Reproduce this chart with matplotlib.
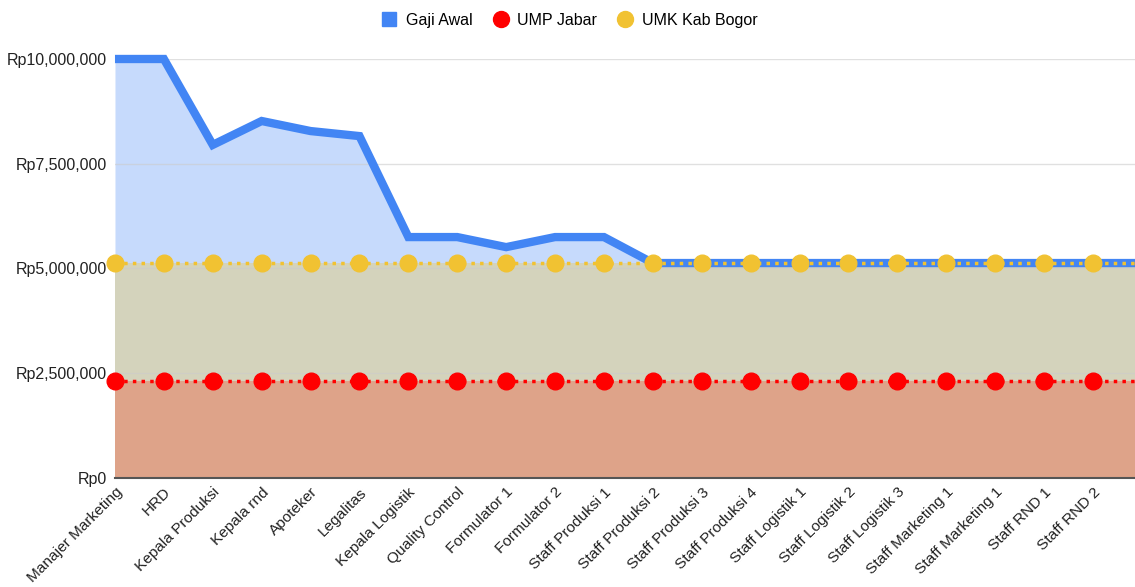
import matplotlib.pyplot as plt
from matplotlib.ticker import FuncFormatter
from matplotlib.lines import Line2D

plt.rcParams['font.family'] = ['Liberation Sans', 'DejaVu Sans']

# data
jabatan = ['Manajer Marketing', 'HRD', 'Kepala Produksi', 'Kepala rnd', 'Apoteker',
           'Legalitas', 'Kepala Logistik', 'Quality Control', 'Formulator 1',
           'Formulator 2', 'Staff Produksi 1', 'Staff Produksi 2', 'Staff Produksi 3',
           'Staff Produksi 4', 'Staff Logistik 1', 'Staff Logistik 2', 'Staff Logistik 3',
           'Staff Marketing 1', 'Staff Marketing 1', 'Staff RND 1', 'Staff RND 2']
gaji_awal = [10000000, 10000000, 7950000, 8520000, 8280000, 8160000, 5750000, 5750000,
             5510000, 5750000, 5750000, 5130000, 5130000, 5130000, 5130000, 5130000,
             5130000, 5130000, 5130000, 5130000, 5130000]
ump_jabar = [2310000] * 21
umk_bogor = [5130000] * 21

x = list(range(len(jabatan)))

fig = plt.figure(figsize=(11.35, 5.87), dpi=100)
ax = fig.add_axes([0.1013, 0.1857, 0.8987, 0.7138])

# filled areas (opaque colours of the overlapping translucent fills)
ax.fill_between(x + [20.9], 0, gaji_awal + [gaji_awal[-1]], color='#c6dafc', lw=0, zorder=1)
ax.fill_between(x + [20.9], 0, umk_bogor + [umk_bogor[-1]], color='#d4d3bc', lw=0, zorder=1.1)
ax.fill_between(x + [20.9], 0, ump_jabar + [ump_jabar[-1]], color='#dea389', lw=0, zorder=1.2)

for v in [2500000, 5000000, 7500000, 10000000]:
    ax.axhline(v, color='#cccccc', lw=1, zorder=1.5, alpha=0.6)

ax.plot(x + [20.9], gaji_awal + [gaji_awal[-1]], color='#4285f4', lw=6, zorder=3,
        solid_joinstyle='miter', solid_capstyle='butt', clip_on=False)
ax.plot(x + [20.9], umk_bogor + [umk_bogor[-1]], color='#f1c232', lw=2.5, ls=(0, (1, 1.5)), zorder=4)
ax.plot(x, umk_bogor, 'o', color='#f1c232', ms=12, zorder=5, clip_on=False)
ax.plot(x + [20.9], ump_jabar + [ump_jabar[-1]], color='#ff0000', lw=2.5, ls=(0, (1, 1.5)), zorder=4)
ax.plot(x, ump_jabar, 'o', color='#ff0000', ms=12, zorder=5, clip_on=False)

ax.set_xlim(0, 20.86)
ax.set_ylim(0, 10000000)
ax.set_yticks([0, 2500000, 5000000, 7500000, 10000000])
ax.yaxis.set_major_formatter(FuncFormatter(lambda v, p: 'Rp{:,.0f}'.format(v)))
ax.set_xticks(x)
ax.set_xticklabels(jabatan, rotation=45, ha='right', rotation_mode='anchor', fontsize=11.1, color='#222222')
ax.tick_params(axis='y', length=0, labelsize=11.5, labelcolor='#222222', pad=6)
ax.tick_params(axis='x', length=0, pad=5)
for s in ['top', 'right', 'left']:
    ax.spines[s].set_visible(False)
ax.spines['bottom'].set_color('#555555')
ax.spines['bottom'].set_linewidth(1.5)
ax.spines['bottom'].set_zorder(6)

handles = [
    Line2D([], [], marker='s', ls='', color='#4285f4', ms=9.5),
    Line2D([], [], marker='o', ls='', color='#ff0000', ms=11.5),
    Line2D([], [], marker='o', ls='', color='#f1c232', ms=11.5),
]
fig.legend(handles, ['Gaji Awal', 'UMP Jabar', 'UMK Kab Bogor'], loc='center',
           bbox_to_anchor=(0.5, 0.965), ncol=3, frameon=False, fontsize=11.5,
           handletextpad=0.3, columnspacing=1.0, handlelength=1.5)

fig.savefig('out.png', dpi=100)
